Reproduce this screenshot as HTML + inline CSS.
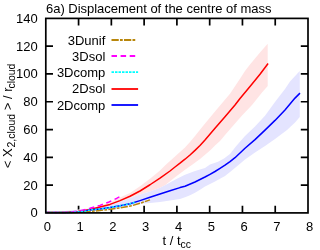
<!DOCTYPE html>
<html><head><meta charset="utf-8">
<style>
html,body{margin:0;padding:0;background:#fff;}
body{width:320px;height:250px;overflow:hidden;font-family:"Liberation Sans",sans-serif;}
svg{display:block;will-change:transform;}
text{font-family:"Liberation Sans",sans-serif;font-size:13px;fill:#000;}
</style></head><body>
<svg width="320" height="250" viewBox="0 0 320 250">
<rect width="320" height="250" fill="#fff"/>
<path d="M78.575,212.9 V205.7 M78.575,18.4 V25.6 M111.35,212.9 V205.7 M111.35,18.4 V25.6 M144.125,212.9 V205.7 M144.125,18.4 V25.6 M176.9,212.9 V205.7 M176.9,18.4 V25.6 M209.675,212.9 V205.7 M209.675,18.4 V25.6 M242.45,212.9 V205.7 M242.45,18.4 V25.6 M275.225,212.9 V205.7 M275.225,18.4 V25.6 M45.8,185.114 H53 M308,185.114 H300.8 M45.8,157.329 H53 M308,157.329 H300.8 M45.8,129.543 H53 M308,129.543 H300.8 M45.8,101.757 H53 M308,101.757 H300.8 M45.8,73.9714 H53 M308,73.9714 H300.8 M45.8,46.1857 H53 M308,46.1857 H300.8" fill="none" stroke="#000" stroke-width="1.7"/>
<path d="M46,212.9 L90,209 L100,205.5 L110,202.5 L120,197.5 L130,193.1 L140,186.25 L150,178.75 L160,170.6 L165,165.5 L175,156.5 L185,147.5 L190,142 L195,136 L203,126 L215,111.5 L230,93.75 L240,78.75 L245,71 L250,64.4 L260,52.5 L267.7,43.75 L267.7,86 L262,92.5 L252,105 L242,115.6 L235,123.5 L225,135 L220,141 L215,145.5 L210,150.4 L200,159 L192.5,164.5 L185,169.8 L175,177.3 L170,181.3 L165,185.3 L160,187.8 L150,191.5 L140,194.4 L130,198 L120,202 L100,207.5 L46,212.9 Z" fill="#ffe4e4"/>
<path d="M46,212.9 L100,207.5 L120,202 L130,198 L140,194.4 L150,191.5 L160,187.8 L165,185.3 L175,179.8 L185,174.8 L195,171 L205,168 L210,164.5 L218,161.8 L224,158.5 L230,154 L236.25,146 L245,136 L255,126.4 L265,115.8 L275,102 L285,89 L290,81.5 L299.75,71 L299.75,116.9 L295,122.5 L287,130 L281,134.5 L275,139 L265,146 L255,152.5 L245,159.4 L240,163.75 L230,171.9 L225,176 L215,181.6 L205,186.5 L200,189.8 L195,192.8 L190,195.3 L185,197.3 L180,199 L170,200.6 L160,201.9 L150,202.9 L140,203.75 L130,206 L120,208 L100,210.5 L46,212.9 Z" fill="#e4e4ff"/>
<g fill="none" stroke-width="1.5" stroke-linejoin="round">
<path d="M46,212.55 L65,212.6 L78,211.6 L90,209.4 L100,206.9 L110,204.4 L120,200.6 L130,196.25 L140,191 L150,184.75 L160,178.1 L170,171 L175,167 L180,163.2 L185,159.2 L190,155 L195,150.4 L200,145.5 L205,140 L215,128.3 L225,116.7 L235,105 L240,98.5 L250,86.5 L260,74.3 L268.1,63.5" stroke="#f00"/>
<path d="M46,212.55 L70,212.5 L85,211.3 L90,209.9 L100,208.9 L110,207.5 L120,205.8 L130,203.7 L140,200.6 L150,197.3 L160,194 L170,190.8 L180,187.6 L185,186.3 L195,182 L205,177 L210,174.3 L215,171.5 L220,168.4 L225,165.2 L230,161.6 L235,157.7 L245,148.3 L255,139.6 L265,130.1 L275,120.4 L285,109.9 L295,98.1 L300,93.1" stroke="#00f"/>
<path d="M46,212.55 L75,212.6 L90,211.5 L100,210.5 L110,209.3 L120,207.9 L132,205.7 L140,203.3 L150,199.9" stroke="#b8860b" stroke-dasharray="7.25 1.25 2.75 1.25"/>
<path d="M46,212.55 L65,212.5 L78,211.2 L90,208.3 L100,205.4 L109,202 L117,198.2 L119.4,196.9" stroke="#f0f" stroke-dasharray="5.5 3.6" stroke-dashoffset="2.2"/>
<path d="M46,212.55 L70,212.5 L85,211.3 L90,209.9 L100,208.9 L110,207.5 L120,205.8 L130,203.7 L136,202" stroke="#0ff" stroke-dasharray="2 1.5"/>
</g>
<rect x="45.8" y="18.4" width="262.2" height="194.5" fill="none" stroke="#000" stroke-width="1.7"/>
<g text-anchor="end">
<text x="105.3" y="44.65">3Dunif</text>
<text x="105.3" y="60.65">3Dsol</text>
<text x="105.3" y="76.75">3Dcomp</text>
<text x="105.3" y="93.4">2Dsol</text>
<text x="105.3" y="109.65">2Dcomp</text>
</g>
<g fill="none" stroke-width="1.8">
<path d="M111.5,40 H135.7" stroke="#b8860b" stroke-dasharray="7.25 1.25 2.75 1.25"/>
<path d="M111.5,56 H138.1" stroke="#f0f" stroke-dasharray="5.5 3.6"/>
<path d="M111.5,72.05 H138.1" stroke="#0ff" stroke-dasharray="2.5 1"/>
<path d="M111.5,89 H138.1" stroke="#f00"/>
<path d="M111.5,105 H138.1" stroke="#00f"/>
</g>
<text x="46" y="13" textLength="225.4">6a) Displacement of the centre of mass</text>
<g text-anchor="middle">
<text x="47.4" y="230.8">0</text>
<text x="80.175" y="230.8">1</text>
<text x="112.95" y="230.8">2</text>
<text x="145.725" y="230.8">3</text>
<text x="178.5" y="230.8">4</text>
<text x="211.275" y="230.8">5</text>
<text x="244.05" y="230.8">6</text>
<text x="276.825" y="230.8">7</text>
<text x="309.6" y="230.8">8</text>
</g><g text-anchor="end">
<text x="37.8" y="217.35">0</text>
<text x="37.8" y="189.564">20</text>
<text x="37.8" y="161.779">40</text>
<text x="37.8" y="133.993">60</text>
<text x="37.8" y="106.207">80</text>
<text x="37.8" y="78.4214">100</text>
<text x="37.8" y="50.6357">120</text>
<text x="37.8" y="22.85">140</text>
</g>
<text x="162.5" y="244.6">t / t<tspan font-size="10.4" dy="3.5">cc</tspan></text>
<text transform="translate(11.5,168.3) rotate(-90)">&lt; X<tspan font-size="10.4" dy="3.5" dx="1">2,cloud</tspan><tspan dy="-3.5"> &gt; / r</tspan><tspan font-size="10.4" dy="3.5" dx="-0.9">cloud</tspan></text>
</svg>
</body></html>
